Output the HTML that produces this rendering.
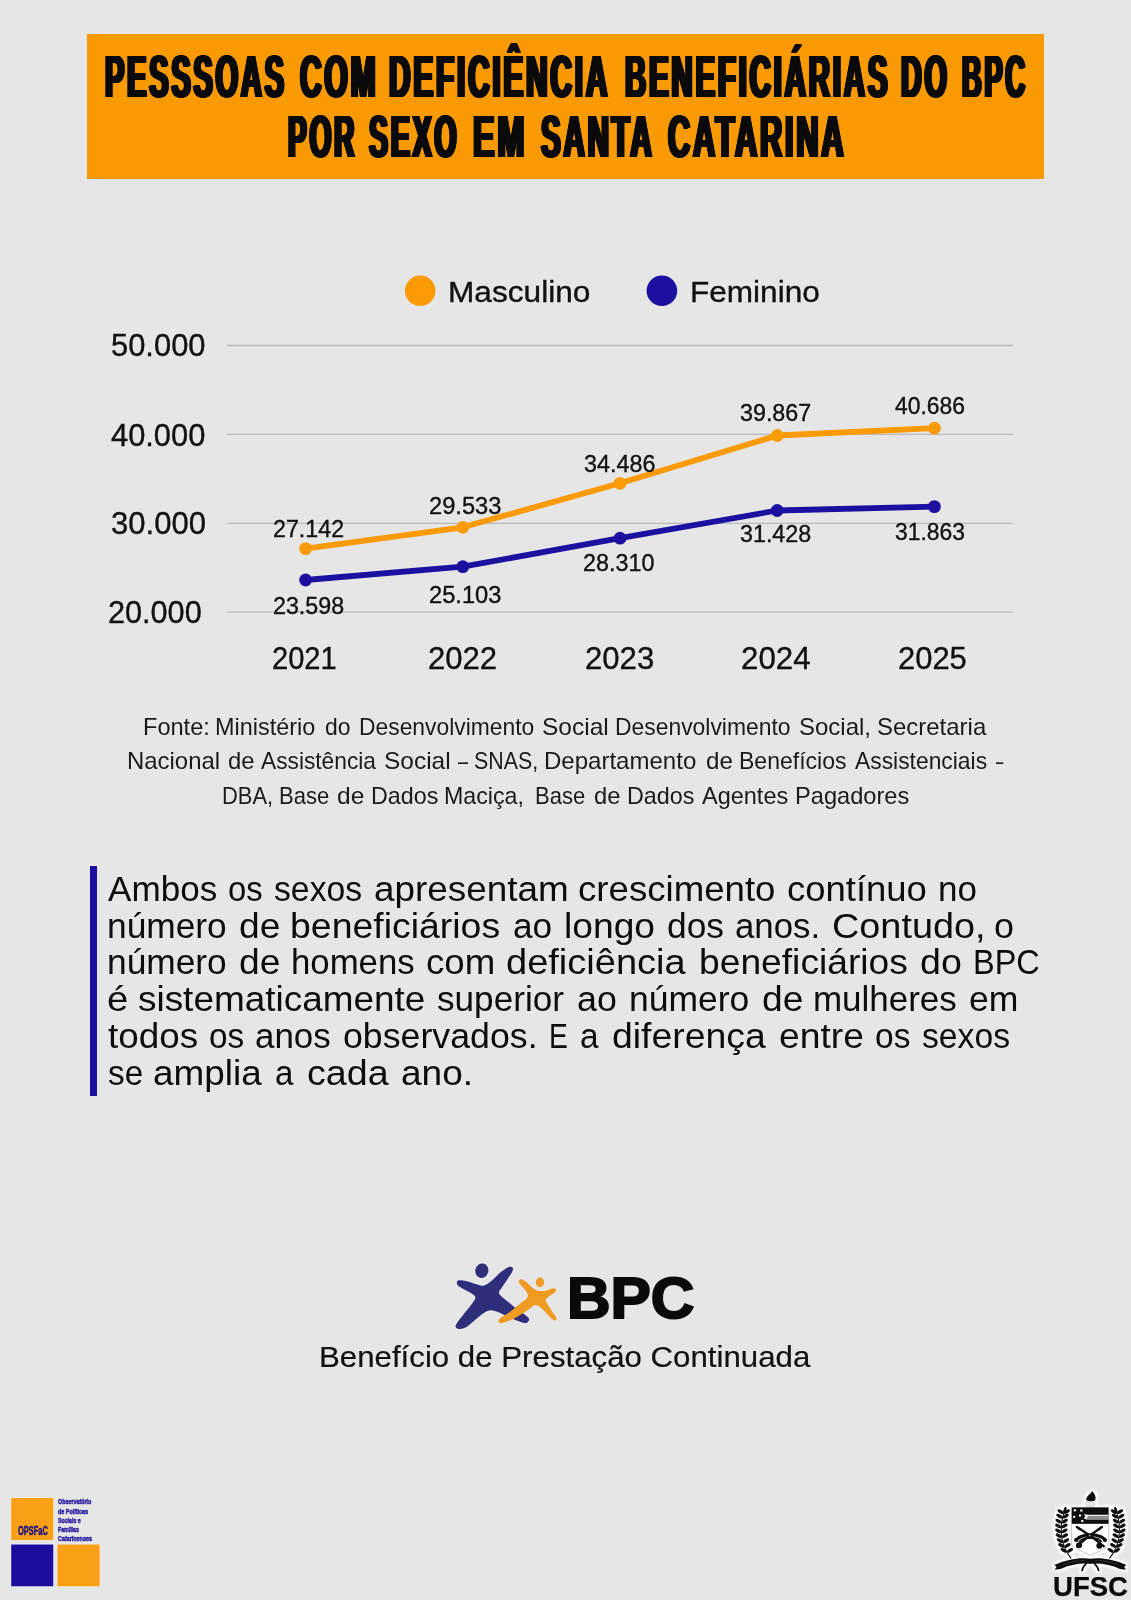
<!DOCTYPE html>
<html lang="pt-BR">
<head>
<meta charset="utf-8">
<title>Pessoas com deficiência beneficiárias do BPC por sexo em Santa Catarina</title>
<style>
html,body{margin:0;padding:0;width:1131px;height:1600px;overflow:hidden;}
body{width:1131px;height:1600px;background:#e6e6e6;position:relative;overflow:hidden;font-family:"Liberation Sans",sans-serif;}
.banner{position:absolute;left:87px;top:34px;width:957px;height:145px;background:#f99a03;}
.bar{position:absolute;left:89.6px;top:866px;width:7.3px;height:230px;background:#1c10a0;}
.t{position:absolute;white-space:nowrap;line-height:1;transform-origin:0 50%;font-family:"Liberation Sans",sans-serif;}
svg.g{position:absolute;left:0;top:0;}
.w{margin:0;padding:0;font-size:16px;font-weight:400;}
</style>
</head>
<body>
<div class="banner"></div>
<div class="bar"></div>
<svg class="g" width="1131" height="1600" viewBox="0 0 1131 1600">
<line x1="227" x2="1013" y1="345.5" y2="345.5" stroke="#b9b9b9" stroke-width="1.3"/>
<line x1="227" x2="1013" y1="434.4" y2="434.4" stroke="#b9b9b9" stroke-width="1.3"/>
<line x1="227" x2="1013" y1="523.3" y2="523.3" stroke="#b9b9b9" stroke-width="1.3"/>
<line x1="227" x2="1013" y1="612.1" y2="612.1" stroke="#b9b9b9" stroke-width="1.3"/>
<polyline points="305.6,548.6 462.8,527.3 620.0,483.3 777.2,435.5 934.4,428.2" fill="none" stroke="#fa9b06" stroke-width="5.8" stroke-linejoin="round" stroke-linecap="round"/>
<circle cx="305.6" cy="548.6" r="6.4" fill="#fa9b06"/>
<circle cx="462.8" cy="527.3" r="6.4" fill="#fa9b06"/>
<circle cx="620.0" cy="483.3" r="6.4" fill="#fa9b06"/>
<circle cx="777.2" cy="435.5" r="6.4" fill="#fa9b06"/>
<circle cx="934.4" cy="428.2" r="6.4" fill="#fa9b06"/>
<polyline points="305.6,580.0 462.8,566.7 620.0,538.2 777.2,510.5 934.4,506.6" fill="none" stroke="#1c10a0" stroke-width="5.8" stroke-linejoin="round" stroke-linecap="round"/>
<circle cx="305.6" cy="580.0" r="6.4" fill="#1c10a0"/>
<circle cx="462.8" cy="566.7" r="6.4" fill="#1c10a0"/>
<circle cx="620.0" cy="538.2" r="6.4" fill="#1c10a0"/>
<circle cx="777.2" cy="510.5" r="6.4" fill="#1c10a0"/>
<circle cx="934.4" cy="506.6" r="6.4" fill="#1c10a0"/>
<circle cx="420.2" cy="290.7" r="15.3" fill="#fa9b06"/>
<circle cx="661.9" cy="290.7" r="15.3" fill="#1c10a0"/>
<defs>
<filter id="soft" x="-10%" y="-10%" width="120%" height="120%"><feGaussianBlur stdDeviation="0.45"/></filter>
<filter id="soft2" x="-10%" y="-10%" width="120%" height="120%"><feGaussianBlur stdDeviation="0.35"/></filter>
<filter id="halo" x="-20%" y="-20%" width="140%" height="140%">
<feMorphology in="SourceAlpha" operator="dilate" radius="1.9" result="d"/>
<feGaussianBlur in="d" stdDeviation="0.8" result="b"/>
<feFlood flood-color="#ffffff" flood-opacity="1"/><feComposite in2="b" operator="in"/>
</filter>
</defs>
<defs><g id="crest" transform="translate(1046,1484) scale(0.07515)"><path d="M615 92 C650 130 670 170 655 215 C640 235 560 235 540 215 C525 185 560 150 590 125 C600 115 610 105 615 92Z" fill="#0b0b0b"/>
<path d="M525 245 H655 L640 300 H545Z" fill="#e9e9e9" stroke="#bdbdbd" stroke-width="6"/>
<path d="M340 312 H835 V790 C835 820 800 850 760 870 L590 950 L420 870 C380 850 340 820 340 790Z" fill="#fdfdfd" stroke="#9a9a9a" stroke-width="7"/>
<rect x="343" y="312" width="489" height="218" fill="#0b0b0b"/>
<circle cx="385" cy="350" r="16" fill="#f4f4f4"/>
<circle cx="470" cy="352" r="16" fill="#f4f4f4"/>
<circle cx="375" cy="437" r="16" fill="#f4f4f4"/>
<circle cx="452" cy="420" r="16" fill="#f4f4f4"/>
<circle cx="483" cy="492" r="16" fill="#f4f4f4"/>
<path d="M500 400 L560 408 H832 V472 H540 L500 455 L525 428Z" fill="#f2f2f2"/>
<path d="M545 440 H832 V470 H545Z" fill="#8a8a8a"/>
<path d="M560 432 H832" stroke="#222" stroke-width="7"/>
<path d="M410 572 C520 640 640 720 770 830" stroke="#0b0b0b" stroke-width="30" fill="none" stroke-linecap="round"/>
<path d="M745 572 C650 640 520 720 415 830" stroke="#0b0b0b" stroke-width="30" fill="none" stroke-linecap="round"/>
<path d="M410 572 L470 590 L440 620Z M745 572 L690 590 L715 620Z" fill="#0b0b0b"/>
<path d="M400 760 C430 650 760 650 790 760" stroke="#0b0b0b" stroke-width="42" fill="none"/>
<path d="M440 770 C500 700 690 700 740 770" stroke="#0b0b0b" stroke-width="24" fill="none"/>
<circle cx="440" cy="815" r="40" fill="#0b0b0b"/><circle cx="710" cy="822" r="40" fill="#0b0b0b"/>
<circle cx="400" cy="745" r="26" fill="#0b0b0b"/><circle cx="785" cy="745" r="26" fill="#0b0b0b"/>
<circle cx="585" cy="700" r="30" fill="#0b0b0b"/><circle cx="580" cy="690" r="10" fill="#ddd"/>
<path d="M335 990 L285 920 L245 840 L215 740 L203 640 L205 540 L222 440 L250 340" stroke="#0b0b0b" stroke-width="14" fill="none" stroke-linejoin="round"/>
<ellipse cx="236" cy="883" rx="45" ry="22" fill="#0b0b0b" transform="rotate(32 236 883)"/>
<ellipse cx="320" cy="883" rx="45" ry="22" fill="#0b0b0b" transform="rotate(-32 320 883)"/>
<ellipse cx="203" cy="818" rx="45" ry="22" fill="#0b0b0b" transform="rotate(32 203 818)"/>
<ellipse cx="287" cy="818" rx="45" ry="22" fill="#0b0b0b" transform="rotate(-32 287 818)"/>
<ellipse cx="184" cy="753" rx="45" ry="22" fill="#0b0b0b" transform="rotate(32 184 753)"/>
<ellipse cx="268" cy="753" rx="45" ry="22" fill="#0b0b0b" transform="rotate(-32 268 753)"/>
<ellipse cx="169" cy="688" rx="45" ry="22" fill="#0b0b0b" transform="rotate(32 169 688)"/>
<ellipse cx="253" cy="688" rx="45" ry="22" fill="#0b0b0b" transform="rotate(-32 253 688)"/>
<ellipse cx="162" cy="623" rx="45" ry="22" fill="#0b0b0b" transform="rotate(32 162 623)"/>
<ellipse cx="246" cy="623" rx="45" ry="22" fill="#0b0b0b" transform="rotate(-32 246 623)"/>
<ellipse cx="162" cy="558" rx="45" ry="22" fill="#0b0b0b" transform="rotate(32 162 558)"/>
<ellipse cx="246" cy="558" rx="45" ry="22" fill="#0b0b0b" transform="rotate(-32 246 558)"/>
<ellipse cx="167" cy="493" rx="45" ry="22" fill="#0b0b0b" transform="rotate(32 167 493)"/>
<ellipse cx="251" cy="493" rx="45" ry="22" fill="#0b0b0b" transform="rotate(-32 251 493)"/>
<ellipse cx="178" cy="428" rx="45" ry="22" fill="#0b0b0b" transform="rotate(32 178 428)"/>
<ellipse cx="262" cy="428" rx="45" ry="22" fill="#0b0b0b" transform="rotate(-32 262 428)"/>
<ellipse cx="194" cy="368" rx="45" ry="22" fill="#0b0b0b" transform="rotate(32 194 368)"/>
<ellipse cx="278" cy="368" rx="45" ry="22" fill="#0b0b0b" transform="rotate(-32 278 368)"/>
<ellipse cx="252" cy="345" rx="19" ry="42" fill="#0b0b0b" transform="rotate(18 252 345)"/>
<path d="M845 990 L895 920 L935 840 L965 740 L977 640 L975 540 L958 440 L930 340" stroke="#0b0b0b" stroke-width="14" fill="none" stroke-linejoin="round"/>
<ellipse cx="944" cy="883" rx="45" ry="22" fill="#0b0b0b" transform="rotate(-32 944 883)"/>
<ellipse cx="860" cy="883" rx="45" ry="22" fill="#0b0b0b" transform="rotate(32 860 883)"/>
<ellipse cx="977" cy="818" rx="45" ry="22" fill="#0b0b0b" transform="rotate(-32 977 818)"/>
<ellipse cx="893" cy="818" rx="45" ry="22" fill="#0b0b0b" transform="rotate(32 893 818)"/>
<ellipse cx="996" cy="753" rx="45" ry="22" fill="#0b0b0b" transform="rotate(-32 996 753)"/>
<ellipse cx="912" cy="753" rx="45" ry="22" fill="#0b0b0b" transform="rotate(32 912 753)"/>
<ellipse cx="1011" cy="688" rx="45" ry="22" fill="#0b0b0b" transform="rotate(-32 1011 688)"/>
<ellipse cx="927" cy="688" rx="45" ry="22" fill="#0b0b0b" transform="rotate(32 927 688)"/>
<ellipse cx="1018" cy="623" rx="45" ry="22" fill="#0b0b0b" transform="rotate(-32 1018 623)"/>
<ellipse cx="934" cy="623" rx="45" ry="22" fill="#0b0b0b" transform="rotate(32 934 623)"/>
<ellipse cx="1018" cy="558" rx="45" ry="22" fill="#0b0b0b" transform="rotate(-32 1018 558)"/>
<ellipse cx="934" cy="558" rx="45" ry="22" fill="#0b0b0b" transform="rotate(32 934 558)"/>
<ellipse cx="1013" cy="493" rx="45" ry="22" fill="#0b0b0b" transform="rotate(-32 1013 493)"/>
<ellipse cx="929" cy="493" rx="45" ry="22" fill="#0b0b0b" transform="rotate(32 929 493)"/>
<ellipse cx="1002" cy="428" rx="45" ry="22" fill="#0b0b0b" transform="rotate(-32 1002 428)"/>
<ellipse cx="918" cy="428" rx="45" ry="22" fill="#0b0b0b" transform="rotate(32 918 428)"/>
<ellipse cx="986" cy="368" rx="45" ry="22" fill="#0b0b0b" transform="rotate(-32 986 368)"/>
<ellipse cx="902" cy="368" rx="45" ry="22" fill="#0b0b0b" transform="rotate(32 902 368)"/>
<ellipse cx="928" cy="345" rx="19" ry="42" fill="#0b0b0b" transform="rotate(-18 928 345)"/>
<path d="M110 1078 C280 1000 470 972 590 996 C710 972 900 1000 1070 1078 L1040 1100 L1062 1142 L985 1130 C860 1072 700 1047 590 1064 C480 1047 320 1072 195 1130 L118 1142 L140 1100Z" fill="#0b0b0b"/>
<path d="M230 1072 C340 1030 450 1016 520 1020" stroke="#8a8a8a" stroke-width="7" fill="none" stroke-dasharray="9 7"/>
<path d="M660 1020 C740 1016 850 1030 950 1072" stroke="#8a8a8a" stroke-width="7" fill="none" stroke-dasharray="9 7"/>
<path d="M560 1030 C520 1070 490 1110 480 1150" stroke="#0b0b0b" stroke-width="24" fill="none" stroke-linecap="round"/>
<path d="M620 1030 C660 1070 690 1110 700 1150" stroke="#0b0b0b" stroke-width="24" fill="none" stroke-linecap="round"/></g></defs>
<g filter="url(#soft)"><g transform="translate(450,1255) scale(0.10610)">
<ellipse cx="300" cy="148" rx="61" ry="69" fill="#2e2f7a" transform="rotate(12 300 148)"/>
<path d="M65.0 255.0 C66.7 246.7 70.8 239.7 85.0 238.0 C99.2 236.3 122.5 238.8 150.0 245.0 C177.5 251.2 221.7 267.8 250.0 275.0 C278.3 282.2 295.0 294.7 320.0 288.0 C345.0 281.3 373.3 256.3 400.0 235.0 C426.7 213.7 454.2 180.5 480.0 160.0 C505.8 139.5 536.3 118.3 555.0 112.0 C573.7 105.7 587.0 114.0 592.0 122.0 C597.0 130.0 593.7 142.0 585.0 160.0 C576.3 178.0 555.8 205.8 540.0 230.0 C524.2 254.2 503.0 283.3 490.0 305.0 C477.0 326.7 457.0 340.8 462.0 360.0 C467.0 379.2 497.0 399.2 520.0 420.0 C543.0 440.8 573.3 464.2 600.0 485.0 C626.7 505.8 656.3 526.7 680.0 545.0 C703.7 563.3 732.8 581.2 742.0 595.0 C751.2 608.8 742.0 620.5 735.0 628.0 C728.0 635.5 722.5 643.8 700.0 640.0 C677.5 636.2 636.7 620.3 600.0 605.0 C563.3 589.7 513.3 561.8 480.0 548.0 C446.7 534.2 425.0 523.3 400.0 522.0 C375.0 520.7 355.0 527.0 330.0 540.0 C305.0 553.0 280.0 576.3 250.0 600.0 C220.0 623.7 176.7 665.8 150.0 682.0 C123.3 698.2 105.8 697.3 90.0 697.0 C74.2 696.7 59.7 688.2 55.0 680.0 C50.3 671.8 51.2 666.3 62.0 648.0 C72.8 629.7 97.0 599.7 120.0 570.0 C143.0 540.3 180.0 498.3 200.0 470.0 C220.0 441.7 240.0 418.3 240.0 400.0 C240.0 381.7 218.3 373.0 200.0 360.0 C181.7 347.0 150.8 334.0 130.0 322.0 C109.2 310.0 85.8 299.2 75.0 288.0 C64.2 276.8 63.3 263.3 65.0 255.0Z" fill="#2e2f7a"/>
<ellipse cx="848" cy="258" rx="39" ry="46" fill="#ef9a24"/>
<path d="M650.0 242.0 C653.3 236.0 660.3 225.8 672.0 228.0 C683.7 230.2 702.0 241.3 720.0 255.0 C738.0 268.7 761.7 296.3 780.0 310.0 C798.3 323.7 810.0 332.5 830.0 337.0 C850.0 341.5 878.3 340.5 900.0 337.0 C921.7 333.5 944.0 318.8 960.0 316.0 C976.0 313.2 991.0 314.0 996.0 320.0 C1001.0 326.0 999.3 340.8 990.0 352.0 C980.7 363.2 954.7 375.3 940.0 387.0 C925.3 398.7 903.7 406.5 902.0 422.0 C900.3 437.5 919.0 460.3 930.0 480.0 C941.0 499.7 955.8 521.3 968.0 540.0 C980.2 558.7 999.3 579.2 1003.0 592.0 C1006.7 604.8 997.2 615.3 990.0 617.0 C982.8 618.7 975.0 614.8 960.0 602.0 C945.0 589.2 918.3 558.3 900.0 540.0 C881.7 521.7 866.7 503.3 850.0 492.0 C833.3 480.7 821.7 465.7 800.0 472.0 C778.3 478.3 753.3 508.7 720.0 530.0 C686.7 551.3 639.7 581.3 600.0 600.0 C560.3 618.7 505.7 638.7 482.0 642.0 C458.3 645.3 459.7 627.8 458.0 620.0 C456.3 612.2 455.0 608.3 472.0 595.0 C489.0 581.7 528.7 562.5 560.0 540.0 C591.3 517.5 631.7 483.3 660.0 460.0 C688.3 436.7 719.7 418.3 730.0 400.0 C740.3 381.7 730.0 366.7 722.0 350.0 C714.0 333.3 693.7 314.3 682.0 300.0 C670.3 285.7 657.3 273.7 652.0 264.0 C646.7 254.3 646.7 248.0 650.0 242.0Z" fill="#ef9a24"/>
</g></g>
<g filter="url(#soft2)">
<rect x="10.4" y="1497.2" width="43.7" height="43.7" fill="#f2f2f2"/>
<rect x="10.4" y="1543.7" width="43.7" height="43.4" fill="#f2f2f2"/>
<rect x="56.6" y="1543.7" width="43.9" height="43.4" fill="#f2f2f2"/>
<rect x="11.2" y="1498" width="42.1" height="42.1" fill="#f9a013"/>
<rect x="11.2" y="1544.5" width="42.1" height="41.8" fill="#1b0f9e"/>
<rect x="57.4" y="1544.5" width="42.3" height="41.8" fill="#f9a013"/>
</g>
<g filter="url(#halo)"><use href="#crest"/></g>
<g filter="url(#soft2)"><use href="#crest"/></g>
</svg>
<h1 class="w title">
<span class="t" style="left:105.12px;top:48.41px;font-size:58.70px;font-weight:700;color:#0a0a0a;transform:scaleX(0.4935);letter-spacing:5.67px;text-shadow:0.97px 0 #0a0a0a,-0.97px 0 #0a0a0a,1.95px 0 #0a0a0a,-1.95px 0 #0a0a0a,2.76px 0 #0a0a0a,-2.76px 0 #0a0a0a,3.24px 0 #0a0a0a,-3.24px 0 #0a0a0a;">PESSSOAS</span>
<span class="t" style="left:299.88px;top:48.41px;font-size:58.70px;font-weight:700;color:#0a0a0a;transform:scaleX(0.5113);letter-spacing:5.48px;text-shadow:0.94px 0 #0a0a0a,-0.94px 0 #0a0a0a,1.88px 0 #0a0a0a,-1.88px 0 #0a0a0a,2.66px 0 #0a0a0a,-2.66px 0 #0a0a0a,3.13px 0 #0a0a0a,-3.13px 0 #0a0a0a;">COM</span>
<span class="t" style="left:388.88px;top:48.41px;font-size:58.70px;font-weight:700;color:#0a0a0a;transform:scaleX(0.5076);letter-spacing:5.52px;text-shadow:0.95px 0 #0a0a0a,-0.95px 0 #0a0a0a,1.89px 0 #0a0a0a,-1.89px 0 #0a0a0a,2.68px 0 #0a0a0a,-2.68px 0 #0a0a0a,3.15px 0 #0a0a0a,-3.15px 0 #0a0a0a;">DEFICIÊNCIA</span>
<span class="t" style="left:624.70px;top:48.41px;font-size:58.70px;font-weight:700;color:#0a0a0a;transform:scaleX(0.5012);letter-spacing:5.59px;text-shadow:0.96px 0 #0a0a0a,-0.96px 0 #0a0a0a,1.92px 0 #0a0a0a,-1.92px 0 #0a0a0a,2.71px 0 #0a0a0a,-2.71px 0 #0a0a0a,3.19px 0 #0a0a0a,-3.19px 0 #0a0a0a;">BENEFICIÁRIAS</span>
<span class="t" style="left:901.43px;top:48.41px;font-size:58.70px;font-weight:700;color:#0a0a0a;transform:scaleX(0.4893);letter-spacing:5.72px;text-shadow:0.98px 0 #0a0a0a,-0.98px 0 #0a0a0a,1.96px 0 #0a0a0a,-1.96px 0 #0a0a0a,2.78px 0 #0a0a0a,-2.78px 0 #0a0a0a,3.27px 0 #0a0a0a,-3.27px 0 #0a0a0a;">DO</span>
<span class="t" style="left:962.31px;top:48.41px;font-size:58.70px;font-weight:700;color:#0a0a0a;transform:scaleX(0.4643);letter-spacing:6.03px;text-shadow:1.03px 0 #0a0a0a,-1.03px 0 #0a0a0a,2.07px 0 #0a0a0a,-2.07px 0 #0a0a0a,2.93px 0 #0a0a0a,-2.93px 0 #0a0a0a,3.45px 0 #0a0a0a,-3.45px 0 #0a0a0a;">BPC</span>
<span class="t" style="left:288.17px;top:108.01px;font-size:58.70px;font-weight:700;color:#0a0a0a;transform:scaleX(0.4782);letter-spacing:5.86px;text-shadow:1.00px 0 #0a0a0a,-1.00px 0 #0a0a0a,2.01px 0 #0a0a0a,-2.01px 0 #0a0a0a,2.84px 0 #0a0a0a,-2.84px 0 #0a0a0a,3.35px 0 #0a0a0a,-3.35px 0 #0a0a0a;">POR</span>
<span class="t" style="left:368.71px;top:108.01px;font-size:58.70px;font-weight:700;color:#0a0a0a;transform:scaleX(0.4856);letter-spacing:5.77px;text-shadow:0.99px 0 #0a0a0a,-0.99px 0 #0a0a0a,1.98px 0 #0a0a0a,-1.98px 0 #0a0a0a,2.80px 0 #0a0a0a,-2.80px 0 #0a0a0a,3.30px 0 #0a0a0a,-3.30px 0 #0a0a0a;">SEXO</span>
<span class="t" style="left:473.04px;top:108.01px;font-size:58.70px;font-weight:700;color:#0a0a0a;transform:scaleX(0.5521);letter-spacing:5.07px;text-shadow:0.87px 0 #0a0a0a,-0.87px 0 #0a0a0a,1.74px 0 #0a0a0a,-1.74px 0 #0a0a0a,2.46px 0 #0a0a0a,-2.46px 0 #0a0a0a,2.90px 0 #0a0a0a,-2.90px 0 #0a0a0a;">EM</span>
<span class="t" style="left:540.60px;top:108.01px;font-size:58.70px;font-weight:700;color:#0a0a0a;transform:scaleX(0.5026);letter-spacing:5.57px;text-shadow:0.96px 0 #0a0a0a,-0.96px 0 #0a0a0a,1.91px 0 #0a0a0a,-1.91px 0 #0a0a0a,2.71px 0 #0a0a0a,-2.71px 0 #0a0a0a,3.18px 0 #0a0a0a,-3.18px 0 #0a0a0a;">SANTA</span>
<span class="t" style="left:668.15px;top:108.01px;font-size:58.70px;font-weight:700;color:#0a0a0a;transform:scaleX(0.5239);letter-spacing:5.34px;text-shadow:0.92px 0 #0a0a0a,-0.92px 0 #0a0a0a,1.83px 0 #0a0a0a,-1.83px 0 #0a0a0a,2.60px 0 #0a0a0a,-2.60px 0 #0a0a0a,3.05px 0 #0a0a0a,-3.05px 0 #0a0a0a;">CATARINA</span>
</h1>
<div class="w legend">
<span class="t" style="left:448.33px;top:277.01px;font-size:29.40px;color:#111;transform:scaleX(1.0759);-webkit-text-stroke:0.35px #111;">Masculino</span>
<span class="t" style="left:690.34px;top:277.01px;font-size:29.40px;color:#111;transform:scaleX(1.0734);-webkit-text-stroke:0.35px #111;">Feminino</span>
</div>
<div class="w axis-y">
<span class="t" style="left:111.09px;top:330.45px;font-size:31.60px;color:#111;transform:scaleX(0.9780);-webkit-text-stroke:0.35px #111;">50.000</span>
<span class="t" style="left:111.27px;top:419.55px;font-size:31.60px;color:#111;transform:scaleX(0.9761);-webkit-text-stroke:0.35px #111;">40.000</span>
<span class="t" style="left:110.68px;top:508.25px;font-size:31.60px;color:#111;transform:scaleX(0.9822);-webkit-text-stroke:0.35px #111;">30.000</span>
<span class="t" style="left:107.70px;top:596.65px;font-size:31.60px;color:#111;transform:scaleX(0.9696);-webkit-text-stroke:0.35px #111;">20.000</span>
</div>
<div class="w axis-x">
<span class="t" style="left:272.44px;top:643.25px;font-size:31.60px;color:#111;transform:scaleX(0.9210);-webkit-text-stroke:0.35px #111;">2021</span>
<span class="t" style="left:428.28px;top:643.25px;font-size:31.60px;color:#111;transform:scaleX(0.9831);-webkit-text-stroke:0.35px #111;">2022</span>
<span class="t" style="left:584.78px;top:643.25px;font-size:31.60px;color:#111;transform:scaleX(0.9848);-webkit-text-stroke:0.35px #111;">2023</span>
<span class="t" style="left:741.08px;top:643.25px;font-size:31.60px;color:#111;transform:scaleX(0.9905);-webkit-text-stroke:0.35px #111;">2024</span>
<span class="t" style="left:897.79px;top:643.25px;font-size:31.60px;color:#111;transform:scaleX(0.9790);-webkit-text-stroke:0.35px #111;">2025</span>
</div>
<div class="w values">
<span class="t" style="left:272.67px;top:517.98px;font-size:23.30px;color:#111;transform:scaleX(0.9980);-webkit-text-stroke:0.35px #111;">27.142</span>
<span class="t" style="left:428.66px;top:494.58px;font-size:23.30px;color:#111;transform:scaleX(1.0167);-webkit-text-stroke:0.35px #111;">29.533</span>
<span class="t" style="left:584.17px;top:452.78px;font-size:23.30px;color:#111;transform:scaleX(1.0023);-webkit-text-stroke:0.35px #111;">34.486</span>
<span class="t" style="left:740.17px;top:401.68px;font-size:23.30px;color:#111;transform:scaleX(0.9994);-webkit-text-stroke:0.35px #111;">39.867</span>
<span class="t" style="left:894.77px;top:394.58px;font-size:23.30px;color:#111;transform:scaleX(0.9825);-webkit-text-stroke:0.35px #111;">40.686</span>
<span class="t" style="left:272.67px;top:595.38px;font-size:23.30px;color:#111;transform:scaleX(0.9980);-webkit-text-stroke:0.35px #111;">23.598</span>
<span class="t" style="left:428.66px;top:583.88px;font-size:23.30px;color:#111;transform:scaleX(1.0167);-webkit-text-stroke:0.35px #111;">25.103</span>
<span class="t" style="left:583.17px;top:551.78px;font-size:23.30px;color:#111;transform:scaleX(1.0023);-webkit-text-stroke:0.35px #111;">28.310</span>
<span class="t" style="left:740.17px;top:523.48px;font-size:23.30px;color:#111;transform:scaleX(0.9994);-webkit-text-stroke:0.35px #111;">31.428</span>
<span class="t" style="left:894.77px;top:521.38px;font-size:23.30px;color:#111;transform:scaleX(0.9825);-webkit-text-stroke:0.35px #111;">31.863</span>
</div>
<p class="w fonte">
<span class="t" style="left:142.79px;top:716.29px;font-size:23.40px;color:#1a1a1a;transform:scaleX(1.0076);">Fonte:</span>
<span class="t" style="left:215.30px;top:716.29px;font-size:23.40px;color:#1a1a1a;transform:scaleX(1.0023);">Ministério</span>
<span class="t" style="left:324.70px;top:716.29px;font-size:23.40px;color:#1a1a1a;transform:scaleX(0.9804);">do</span>
<span class="t" style="left:358.62px;top:716.29px;font-size:23.40px;color:#1a1a1a;transform:scaleX(0.9770);">Desenvolvimento</span>
<span class="t" style="left:542.05px;top:716.29px;font-size:23.40px;color:#1a1a1a;transform:scaleX(1.0486);">Social</span>
<span class="t" style="left:615.42px;top:716.29px;font-size:23.40px;color:#1a1a1a;transform:scaleX(0.9781);">Desenvolvimento</span>
<span class="t" style="left:799.38px;top:716.29px;font-size:23.40px;color:#1a1a1a;transform:scaleX(1.0250);">Social,</span>
<span class="t" style="left:877.08px;top:716.29px;font-size:23.40px;color:#1a1a1a;transform:scaleX(1.0244);">Secretaria</span>
<span class="t" style="left:126.98px;top:750.39px;font-size:23.40px;color:#1a1a1a;transform:scaleX(1.0223);">Nacional</span>
<span class="t" style="left:227.60px;top:750.39px;font-size:23.40px;color:#1a1a1a;transform:scaleX(1.0196);">de</span>
<span class="t" style="left:261.40px;top:750.39px;font-size:23.40px;color:#1a1a1a;transform:scaleX(0.9716);">Assistência</span>
<span class="t" style="left:384.25px;top:750.39px;font-size:23.40px;color:#1a1a1a;transform:scaleX(1.0453);">Social</span>
<span class="t" style="left:457.60px;top:750.39px;font-size:23.40px;color:#1a1a1a;transform:scaleX(0.7692);">–</span>
<span class="t" style="left:473.69px;top:750.39px;font-size:23.40px;color:#1a1a1a;transform:scaleX(0.9129);">SNAS,</span>
<span class="t" style="left:544.07px;top:750.39px;font-size:23.40px;color:#1a1a1a;transform:scaleX(1.0271);">Departamento</span>
<span class="t" style="left:705.60px;top:750.39px;font-size:23.40px;color:#1a1a1a;transform:scaleX(1.0316);">de</span>
<span class="t" style="left:739.12px;top:750.39px;font-size:23.40px;color:#1a1a1a;transform:scaleX(0.9849);">Benefícios</span>
<span class="t" style="left:855.00px;top:750.39px;font-size:23.40px;color:#1a1a1a;transform:scaleX(0.9770);">Assistenciais</span>
<span class="t" style="left:995.70px;top:750.39px;font-size:23.40px;color:#1a1a1a;transform:scaleX(0.5615);">–</span>
<span class="t" style="left:221.66px;top:785.09px;font-size:23.40px;color:#1a1a1a;transform:scaleX(0.9368);">DBA,</span>
<span class="t" style="left:279.16px;top:785.09px;font-size:23.40px;color:#1a1a1a;transform:scaleX(0.9414);">Base</span>
<span class="t" style="left:336.70px;top:785.09px;font-size:23.40px;color:#1a1a1a;transform:scaleX(1.0516);">de</span>
<span class="t" style="left:371.00px;top:785.09px;font-size:23.40px;color:#1a1a1a;transform:scaleX(0.9952);">Dados</span>
<span class="t" style="left:444.11px;top:785.09px;font-size:23.40px;color:#1a1a1a;transform:scaleX(0.9925);">Maciça,</span>
<span class="t" style="left:535.46px;top:785.09px;font-size:23.40px;color:#1a1a1a;transform:scaleX(0.9414);">Base</span>
<span class="t" style="left:593.50px;top:785.09px;font-size:23.40px;color:#1a1a1a;transform:scaleX(1.0156);">de</span>
<span class="t" style="left:626.60px;top:785.09px;font-size:23.40px;color:#1a1a1a;transform:scaleX(0.9967);">Dados</span>
<span class="t" style="left:702.10px;top:785.09px;font-size:23.40px;color:#1a1a1a;transform:scaleX(1.0043);">Agentes</span>
<span class="t" style="left:795.29px;top:785.09px;font-size:23.40px;color:#1a1a1a;transform:scaleX(1.0095);">Pagadores</span>
</p>
<p class="w texto">
<span class="t" style="left:108.30px;top:871.76px;font-size:34.90px;color:#0c0c0c;transform:scaleX(1.0061);">Ambos</span>
<span class="t" style="left:227.86px;top:871.76px;font-size:34.90px;color:#0c0c0c;transform:scaleX(0.9406);">os</span>
<span class="t" style="left:274.40px;top:871.76px;font-size:34.90px;color:#0c0c0c;transform:scaleX(0.9669);">sexos</span>
<span class="t" style="left:373.94px;top:871.76px;font-size:34.90px;color:#0c0c0c;transform:scaleX(1.0564);">apresentam</span>
<span class="t" style="left:577.95px;top:871.76px;font-size:34.90px;color:#0c0c0c;transform:scaleX(1.0497);">crescimento</span>
<span class="t" style="left:786.76px;top:871.76px;font-size:34.90px;color:#0c0c0c;transform:scaleX(1.0445);">contínuo</span>
<span class="t" style="left:938.09px;top:871.76px;font-size:34.90px;color:#0c0c0c;transform:scaleX(1.0027);">no</span>
<span class="t" style="left:106.78px;top:908.52px;font-size:34.90px;color:#0c0c0c;transform:scaleX(1.0122);">número</span>
<span class="t" style="left:239.03px;top:908.52px;font-size:34.90px;color:#0c0c0c;transform:scaleX(1.0658);">de</span>
<span class="t" style="left:290.45px;top:908.52px;font-size:34.90px;color:#0c0c0c;transform:scaleX(1.0727);">beneficiários</span>
<span class="t" style="left:512.89px;top:908.52px;font-size:34.90px;color:#0c0c0c;transform:scaleX(1.0109);">ao</span>
<span class="t" style="left:564.27px;top:908.52px;font-size:34.90px;color:#0c0c0c;transform:scaleX(1.0663);">longo</span>
<span class="t" style="left:666.59px;top:908.52px;font-size:34.90px;color:#0c0c0c;transform:scaleX(1.0126);">dos</span>
<span class="t" style="left:734.60px;top:908.52px;font-size:34.90px;color:#0c0c0c;transform:scaleX(0.9968);">anos.</span>
<span class="t" style="left:831.52px;top:908.52px;font-size:34.90px;color:#0c0c0c;transform:scaleX(1.0840);">Contudo,</span>
<span class="t" style="left:994.17px;top:908.52px;font-size:34.90px;color:#0c0c0c;transform:scaleX(1.0294);">o</span>
<span class="t" style="left:106.78px;top:945.28px;font-size:34.90px;color:#0c0c0c;transform:scaleX(1.0122);">número</span>
<span class="t" style="left:239.03px;top:945.28px;font-size:34.90px;color:#0c0c0c;transform:scaleX(1.0658);">de</span>
<span class="t" style="left:290.61px;top:945.28px;font-size:34.90px;color:#0c0c0c;transform:scaleX(0.9960);">homens</span>
<span class="t" style="left:426.05px;top:945.28px;font-size:34.90px;color:#0c0c0c;transform:scaleX(1.0501);">com</span>
<span class="t" style="left:506.01px;top:945.28px;font-size:34.90px;color:#0c0c0c;transform:scaleX(1.0896);">deficiência</span>
<span class="t" style="left:699.17px;top:945.28px;font-size:34.90px;color:#0c0c0c;transform:scaleX(1.0665);">beneficiários</span>
<span class="t" style="left:920.32px;top:945.28px;font-size:34.90px;color:#0c0c0c;transform:scaleX(1.0768);">do</span>
<span class="t" style="left:973.34px;top:945.28px;font-size:34.90px;color:#0c0c0c;transform:scaleX(0.9308);">BPC</span>
<span class="t" style="left:107.20px;top:982.04px;font-size:34.90px;color:#0c0c0c;transform:scaleX(1.1000);">é</span>
<span class="t" style="left:138.00px;top:982.04px;font-size:34.90px;color:#0c0c0c;transform:scaleX(1.0582);">sistematicamente</span>
<span class="t" style="left:437.10px;top:982.04px;font-size:34.90px;color:#0c0c0c;transform:scaleX(1.0069);">superior</span>
<span class="t" style="left:576.67px;top:982.04px;font-size:34.90px;color:#0c0c0c;transform:scaleX(1.0273);">ao</span>
<span class="t" style="left:629.27px;top:982.04px;font-size:34.90px;color:#0c0c0c;transform:scaleX(1.0166);">número</span>
<span class="t" style="left:761.53px;top:982.04px;font-size:34.90px;color:#0c0c0c;transform:scaleX(1.0658);">de</span>
<span class="t" style="left:813.10px;top:982.04px;font-size:34.90px;color:#0c0c0c;transform:scaleX(1.0018);">mulheres</span>
<span class="t" style="left:969.08px;top:982.04px;font-size:34.90px;color:#0c0c0c;transform:scaleX(1.0197);">em</span>
<span class="t" style="left:107.50px;top:1018.80px;font-size:34.90px;color:#0c0c0c;transform:scaleX(1.0553);">todos</span>
<span class="t" style="left:209.15px;top:1018.80px;font-size:34.90px;color:#0c0c0c;transform:scaleX(0.9547);">os</span>
<span class="t" style="left:255.40px;top:1018.80px;font-size:34.90px;color:#0c0c0c;transform:scaleX(1.0012);">anos</span>
<span class="t" style="left:342.78px;top:1018.80px;font-size:34.90px;color:#0c0c0c;transform:scaleX(1.0237);">observados.</span>
<span class="t" style="left:548.58px;top:1018.80px;font-size:34.90px;color:#0c0c0c;transform:scaleX(0.8100);">E</span>
<span class="t" style="left:579.74px;top:1018.80px;font-size:34.90px;color:#0c0c0c;transform:scaleX(0.9579);">a</span>
<span class="t" style="left:611.93px;top:1018.80px;font-size:34.90px;color:#0c0c0c;transform:scaleX(1.0718);">diferença</span>
<span class="t" style="left:779.23px;top:1018.80px;font-size:34.90px;color:#0c0c0c;transform:scaleX(1.0671);">entre</span>
<span class="t" style="left:874.64px;top:1018.80px;font-size:34.90px;color:#0c0c0c;transform:scaleX(0.9603);">os</span>
<span class="t" style="left:922.10px;top:1018.80px;font-size:34.90px;color:#0c0c0c;transform:scaleX(0.9658);">sexos</span>
<span class="t" style="left:107.50px;top:1055.56px;font-size:34.90px;color:#0c0c0c;transform:scaleX(0.9536);">se</span>
<span class="t" style="left:152.74px;top:1055.56px;font-size:34.90px;color:#0c0c0c;transform:scaleX(1.0579);">amplia</span>
<span class="t" style="left:274.95px;top:1055.56px;font-size:34.90px;color:#0c0c0c;transform:scaleX(0.9474);">a</span>
<span class="t" style="left:306.62px;top:1055.56px;font-size:34.90px;color:#0c0c0c;transform:scaleX(1.0777);">cada</span>
<span class="t" style="left:401.44px;top:1055.56px;font-size:34.90px;color:#0c0c0c;transform:scaleX(1.0605);">ano.</span>
</p>
<div class="w bpc">
<span class="t" style="left:566.58px;top:1270.25px;font-size:57.00px;font-weight:700;color:#0a0a0a;transform:scaleX(1.0585);-webkit-text-stroke:2px #0a0a0a;">BPC</span>
<span class="t" style="left:319.04px;top:1342.15px;font-size:30.30px;color:#111;transform:scaleX(1.0307);-webkit-text-stroke:0.2px #111;">Benefício de Prestação Continuada</span>
</div>
<div class="w opsfac">
<span class="t" style="left:17.65px;top:1525.36px;font-size:12.80px;font-weight:700;color:#1a0e86;transform:scaleX(0.5830);filter:blur(0.3px);-webkit-text-stroke:0.5px #1a0e86;">OPSFaC</span>
<span class="t" style="left:57.60px;top:1499.44px;font-size:6.80px;font-weight:700;color:#2a1fa0;transform:scaleX(0.7878);filter:blur(0.4px);-webkit-text-stroke:0.5px #2a1fa0;">Observatório</span>
<span class="t" style="left:57.60px;top:1508.54px;font-size:6.80px;font-weight:700;color:#2a1fa0;transform:scaleX(0.7949);filter:blur(0.4px);-webkit-text-stroke:0.5px #2a1fa0;">de Políticas</span>
<span class="t" style="left:57.59px;top:1517.64px;font-size:6.80px;font-weight:700;color:#2a1fa0;transform:scaleX(0.7718);filter:blur(0.4px);-webkit-text-stroke:0.5px #2a1fa0;">Sociais e</span>
<span class="t" style="left:57.59px;top:1526.74px;font-size:6.80px;font-weight:700;color:#2a1fa0;transform:scaleX(0.7665);filter:blur(0.4px);-webkit-text-stroke:0.5px #2a1fa0;">Famílias</span>
<span class="t" style="left:57.60px;top:1535.84px;font-size:6.80px;font-weight:700;color:#2a1fa0;transform:scaleX(0.7948);filter:blur(0.4px);-webkit-text-stroke:0.5px #2a1fa0;">Catarinenses</span>
</div>
<div class="w ufsc">
<span class="t" style="left:1052.50px;top:1573.94px;font-size:27.00px;font-weight:700;color:#0a0a0a;transform:scaleX(1.0202);-webkit-text-stroke:0.25px #0a0a0a;height:25.5px;overflow:hidden;">UFSC</span>
</div>
</body>
</html>
